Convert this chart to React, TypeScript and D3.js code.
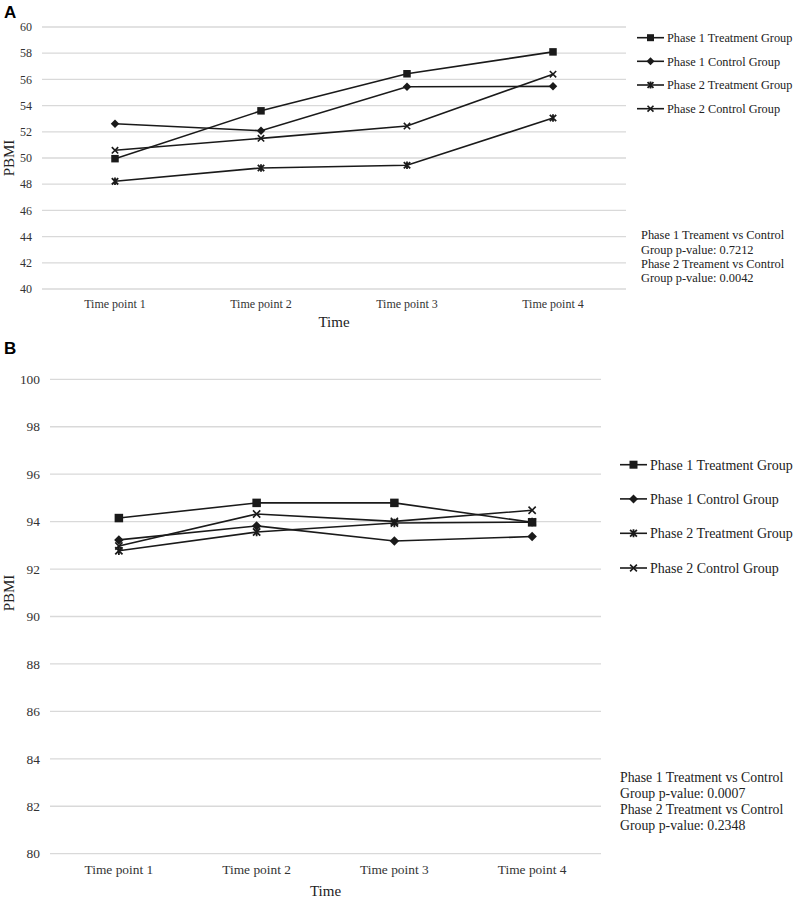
import React from "react"
import * as d3 from "d3"

const timePoints = ["Time point 1", "Time point 2", "Time point 3", "Time point 4"]
const seriesNames = ["Phase 1 Treatment Group", "Phase 1 Control Group", "Phase 2 Treatment Group", "Phase 2 Control Group"]
const markerKinds = ["square", "diamond", "star", "x"]

// panel A values
const aP1Treatment = [49.95, 53.6, 56.43, 58.1]
const aP1Control = [52.62, 52.08, 55.44, 55.47]
const aP2Treatment = [48.22, 49.24, 49.45, 53.05]
const aP2Control = [50.59, 51.5, 52.44, 56.4]
const aTicks = [40, 42, 44, 46, 48, 50, 52, 54, 56, 58, 60]
const aNotes = ["Phase 1 Treament vs Control", "Group p-value: 0.7212", "Phase 2 Treament vs Control", "Group p-value: 0.0042"]

// panel B values
const bP1Treatment = [94.15, 94.79, 94.79, 93.97]
const bP1Control = [93.23, 93.82, 93.18, 93.37]
const bP2Treatment = [92.77, 93.56, 93.94, 93.98]
const bP2Control = [92.97, 94.32, 94.01, 94.48]
const bTicks = [80, 82, 84, 86, 88, 90, 92, 94, 96, 98, 100]
const bNotes = ["Phase 1 Treatment vs Control", "Group p-value: 0.0007", "Phase 2 Treatment vs Control", "Group p-value: 0.2348"]

const SERIF = "'Liberation Serif', 'Times New Roman', serif"

function Marker({ kind, x, y, s }: { kind: string; x: number; y: number; s: number }) {
  const h = s / 2
  if (kind === "square") return <rect x={x - h} y={y - h} width={s} height={s} fill="#1a1a1a" />
  if (kind === "diamond")
    return <path d={`M${x},${y - h - 0.5}L${x + h + 0.5},${y}L${x},${y + h + 0.5}L${x - h - 0.5},${y}Z`} fill="#1a1a1a" />
  const xs = `M${x - h * 0.85},${y - h * 0.85}L${x + h * 0.85},${y + h * 0.85}M${x + h * 0.85},${y - h * 0.85}L${x - h * 0.85},${y + h * 0.85}`
  if (kind === "x") return <path d={xs} stroke="#1a1a1a" strokeWidth={1.6} fill="none" />
  return <path d={`${xs}M${x},${y - h}L${x},${y + h}`} stroke="#1a1a1a" strokeWidth={1.8} fill="none" />
}

interface PanelProps {
  label: string
  labelY: number
  series: number[][]
  ticks: number[]
  notes: string[]
  left: number
  right: number
  top: number
  bottom: number
  tickFont: number
  legendX: number
  legendY: number[]
  legendFont: number
  noteX: number
  noteY: number
  noteStep: number
  noteFont: number
  xLabelY: number
  titleY: number
  yTitleY: number
  markerSize: number
}

function Panel(p: PanelProps) {
  const x = d3.scaleBand<string>().domain(timePoints).range([p.left, p.right])
  const y = d3.scaleLinear().domain([p.ticks[0], p.ticks[p.ticks.length - 1]]).range([p.bottom, p.top])
  const cx = (t: string) => (x(t) as number) + x.bandwidth() / 2
  const line = d3
    .line<number>()
    .x((_, i) => cx(timePoints[i]))
    .y((d) => y(d))

  return (
    <g>
      <text x={4} y={p.labelY} fontFamily="Arial, 'Liberation Sans', sans-serif" fontWeight="bold" fontSize={17}>
        {p.label}
      </text>
      {p.ticks.map((t) => (
        <g key={t}>
          <line x1={p.left} x2={p.right} y1={y(t)} y2={y(t)} stroke="#d9d9d9" strokeWidth={1.3} />
          <text x={p.left - 10} y={y(t)} dy="0.35em" textAnchor="end" fontFamily={SERIF} fontSize={p.tickFont} fill="#333">
            {t}
          </text>
        </g>
      ))}
      {timePoints.map((t) => (
        <text key={t} x={cx(t)} y={p.xLabelY} textAnchor="middle" fontFamily={SERIF} fontSize={p.tickFont} fill="#333">
          {t}
        </text>
      ))}
      <text x={(p.left + p.right) / 2} y={p.titleY} textAnchor="middle" fontFamily={SERIF} fontSize={15} fill="#222">
        Time
      </text>
      <text
        transform={`translate(14,${p.yTitleY}) rotate(-90)`}
        textAnchor="middle"
        fontFamily={SERIF}
        fontSize={15}
        fill="#222"
      >
        PBMI
      </text>
      {p.series.map((s, i) => (
        <path key={i} d={line(s) as string} fill="none" stroke="#1a1a1a" strokeWidth={1.6} />
      ))}
      {p.series.map((s, i) =>
        s.map((v, j) => <Marker key={`${i}-${j}`} kind={markerKinds[i]} x={cx(timePoints[j])} y={y(v)} s={p.markerSize} />)
      )}
      {seriesNames.map((n, i) => (
        <g key={n}>
          <line x1={p.legendX} x2={p.legendX + 27} y1={p.legendY[i]} y2={p.legendY[i]} stroke="#1a1a1a" strokeWidth={1.6} />
          <Marker kind={markerKinds[i]} x={p.legendX + 13.5} y={p.legendY[i]} s={p.markerSize - 0.5} />
          <text x={p.legendX + 30} y={p.legendY[i]} dy="0.35em" fontFamily={SERIF} fontSize={p.legendFont} fill="#222">
            {n}
          </text>
        </g>
      ))}
      {p.notes.map((n, i) => (
        <text key={i} x={p.noteX} y={p.noteY + i * p.noteStep} dy="0.35em" fontFamily={SERIF} fontSize={p.noteFont} fill="#222">
          {n}
        </text>
      ))}
    </g>
  )
}

export default function App() {
  return (
    <svg width={797} height={900} style={{ position: "absolute", left: 0, top: 0, background: "#fff" }}>
      <rect width={797} height={900} fill="#fff" />
      <Panel
        label="A"
        labelY={18}
        series={[aP1Treatment, aP1Control, aP2Treatment, aP2Control]}
        ticks={aTicks}
        notes={aNotes}
        left={42}
        right={626}
        top={27}
        bottom={289}
        tickFont={12}
        legendX={637}
        legendY={[37.7, 61.3, 85, 108.7]}
        legendFont={12.3}
        noteX={641}
        noteY={235}
        noteStep={14.3}
        noteFont={12.4}
        xLabelY={308}
        titleY={327}
        yTitleY={158}
        markerSize={7.5}
      />
      <Panel
        label="B"
        labelY={354}
        series={[bP1Treatment, bP1Control, bP2Treatment, bP2Control]}
        ticks={bTicks}
        notes={bNotes}
        left={50}
        right={601}
        top={379.3}
        bottom={853.7}
        tickFont={13.4}
        legendX={620}
        legendY={[464.7, 498.9, 533.3, 568]}
        legendFont={14}
        noteX={620}
        noteY={777.3}
        noteStep={15.8}
        noteFont={13.8}
        xLabelY={874}
        titleY={896}
        yTitleY={593}
        markerSize={8.5}
      />
    </svg>
  )
}
